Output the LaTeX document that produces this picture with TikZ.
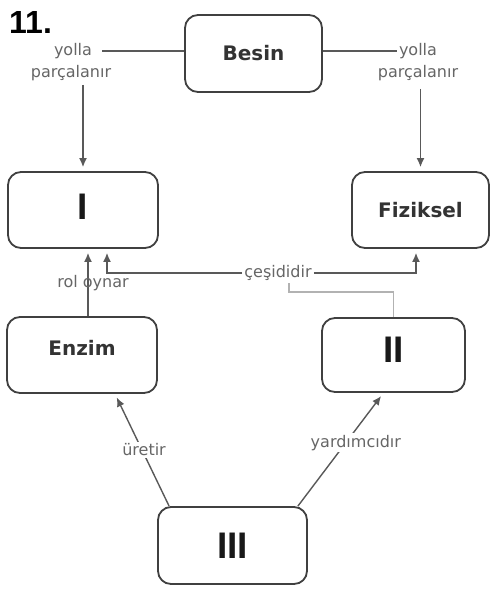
\documentclass[tikz,border=0pt]{standalone}
\usepackage{fontspec}
\setmainfont{DejaVu Sans}
\newfontfamily\numfont{Liberation Sans}
\usetikzlibrary{positioning,arrows.meta}

\begin{document}
\begin{tikzpicture}[x=1pt,y=-1pt,
    kutu/.style={draw=black!75, line width=1.8pt, rounded corners=13pt, fill=white,
      font=\fontsize{20}{24}\selectfont\bfseries, text=black!80},
    romen/.style={kutu, font=\numfont\fontsize{37}{40}\selectfont\bfseries, text=black!90},
    etiket/.style={font=\fontsize{16}{18}\selectfont, text=black!60, inner sep=2pt},
    bag/.style={draw=black!65, line width=1.4pt},
    ok/.style={bag, -{Latex[length=9pt,width=8pt]}, shorten >=4pt},
    acik/.style={draw=black!30, line width=1.4pt}]
      \useasboundingbox[fill=white] (0,0) rectangle (490,590);
      \node[anchor=base west, inner sep=0pt, font=\numfont\fontsize{32}{34}\selectfont\bfseries] (soru) at (9,33) {11.};

      % kutular
      \node[kutu, minimum width=137pt, minimum height=77pt] (besin) at (253.5,53.5) {\raisebox{2pt}{Besin}};
      \node[romen, minimum width=150pt, minimum height=76pt] (kutuI) at (83,210) {\raisebox{7pt}{I}};
      \node[kutu, minimum width=137pt, minimum height=76pt] (fiz) at (420.5,210) {\raisebox{-7pt}{Fiziksel}};
      \node[kutu, minimum width=150pt, minimum height=76pt] (enzim) at (82,355) {\raisebox{15pt}{Enzim}};
      \node[romen, minimum width=143pt, minimum height=74pt] (kutuII) at (393.5,355) {\raisebox{10pt}{II}};
      \node[romen, minimum width=149pt, minimum height=77pt] (kutuIII) at (232.5,545.5) {\raisebox{-14pt}{III}};

      % etiketler
      \node[etiket] (yolSol) at (73,51) {yolla};
      \node[etiket] (parSol) at (71,73) {parçalanır};
      \node[etiket] (yolSag) at (418,51) {yolla};
      \node[etiket] (parSag) at (418,73) {parçalanır};
      \node[etiket] (cesit) at (278,273) {çeşididir};
      \coordinate (cesDip) at (289,292);

      % baglantilar
      \draw[bag] ([xshift=8pt]yolSol.east) -- (yolSol.east -| besin.west);
      \draw[ok] ([yshift=-2pt]parSol.south -| kutuI.north) -- (kutuI.north);
      \draw[bag] (yolSag.west) -- (yolSag.west -| besin.east);
      \draw[ok] ([yshift=-6pt]parSag.south -| fiz.north) -- (fiz.north);
      \draw[ok] ([xshift=6pt]enzim.north) -- node[etiket, pos=0.49, xshift=5pt] (rol) {rol oynar}
        ([xshift=6pt]enzim.north |- kutuI.south);
      \draw[ok] (cesit.west) -| ([xshift=24pt]kutuI.south);
      \draw[ok] (cesit.east) -| ([xshift=-4.5pt]fiz.south);
      \draw[acik] (kutuII.north) |- (cesDip) -- (cesDip |- cesit.south);
      \draw[ok] ([xshift=12pt]kutuIII.north west) -- node[etiket, fill=white, pos=0.5, xshift=2pt] (uret) {üretir}
        ([xshift=33pt]enzim.south);
      \draw[ok] ([xshift=-10pt]kutuIII.north east) -- node[etiket, fill=white, pos=0.56, xshift=10pt] (yard) {yardımcıdır}
        ([xshift=-10pt]kutuII.south);
    \end{tikzpicture}
\end{document}
